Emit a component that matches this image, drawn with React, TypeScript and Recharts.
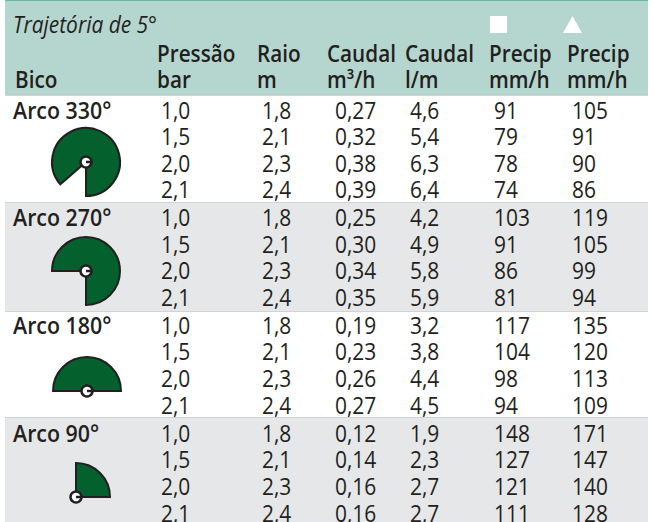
import { PieChart, Pie, Cell } from "recharts";

const WIDTH = 654;
const HEIGHT = 522;
const INK = "#231f20";
const GREEN = "#04602c";

const arcLabels = ["Arco 330°", "Arco 270°", "Arco 180°", "Arco 90°"];
// start / end angle of the drawn sector
const arcStart = [-90, -90, 0, 0];
const arcEnd = [221, 180, 180, 90];
const arcCx = [86, 86, 87, 76];
const arcCy = [162, 271, 391, 497];

const pressure = ["1,0", "1,5", "2,0", "2,1"];
const radius = ["1,8", "2,1", "2,3", "2,4"];
const flowM3 = [
  ["0,27", "0,32", "0,38", "0,39"],
  ["0,25", "0,30", "0,34", "0,35"],
  ["0,19", "0,23", "0,26", "0,27"],
  ["0,12", "0,14", "0,16", "0,16"],
];
const flowLm = [
  ["4,6", "5,4", "6,3", "6,4"],
  ["4,2", "4,9", "5,8", "5,9"],
  ["3,2", "3,8", "4,4", "4,5"],
  ["1,9", "2,3", "2,7", "2,7"],
];
const precipSquare = [
  ["91", "79", "78", "74"],
  ["103", "91", "86", "81"],
  ["117", "104", "98", "94"],
  ["148", "127", "121", "111"],
];
const precipTriangle = [
  ["105", "91", "90", "86"],
  ["119", "105", "99", "94"],
  ["135", "120", "113", "109"],
  ["171", "147", "140", "128"],
];

const headerTop = ["Pressão", "Raio", "Caudal", "Caudal", "Precip", "Precip"];
const headerBottom = ["bar", "m", "m³/h", "l/m", "mm/h", "mm/h"];
const headerX = [157, 257, 327, 405, 489, 567];

const sectionTop = [95, 202, 311, 417];
const rowBaselines = [
  [119, 145, 172, 198],
  [226, 253, 279, 306],
  [334, 360, 387, 414],
  [442, 468, 495, 522],
];
const valueX = [161, 262, 335, 410, 494, 572];

function T({
  x,
  y,
  children,
  weight = 400,
  italic = false,
  sx = 0.91,
}: {
  x: number;
  y: number;
  children: React.ReactNode;
  weight?: number;
  italic?: boolean;
  sx?: number;
}) {
  return (
    <text
      transform={`translate(${x} ${y}) scale(${sx} 1)`}
      fontFamily="'Open Sans', sans-serif"
      fontSize={23}
      fontWeight={weight}
      fontStyle={italic ? "italic" : "normal"}
      fill={INK}
    >
      {children}
    </text>
  );
}

export default function App() {
  return (
    <div style={{ position: "absolute", left: 0, top: 0, width: WIDTH, height: HEIGHT, overflow: "hidden", background: "#fff" }}>
      <svg width={WIDTH} height={HEIGHT} style={{ position: "absolute", left: 0, top: 0 }}>
        {/* header band */}
        <rect x={5} y={0} width={643} height={95} fill="#b5d6cf" />
        <rect x={5} y={0} width={643} height={1} fill="#6cb8a3" />
        <rect x={490} y={16} width={17} height={17} fill="#fff" />
        <polygon points="563,33 582,33 572.5,16" fill="#fff" />

        {/* zebra rows */}
        <rect x={5} y={sectionTop[1]} width={643} height={sectionTop[2] - sectionTop[1]} fill="#e6e7e8" />
        <rect x={5} y={sectionTop[3]} width={643} height={HEIGHT - sectionTop[3]} fill="#e6e7e8" />
        {sectionTop.map((y) => (
          <rect key={y} x={5} y={y} width={643} height={1} fill="#d1d3d4" />
        ))}

        <T x={13} y={33} italic sx={0.91}>Trajetória de 5°</T>
        <T x={15} y={88} weight={600} sx={0.9}>Bico</T>
        {headerTop.map((h, i) => (
          <T key={i} x={headerX[i]} y={62} weight={600} sx={0.9}>{h}</T>
        ))}
        {headerBottom.map((h, i) => (
          <T key={i} x={headerX[i]} y={88} weight={600} sx={0.9}>{h}</T>
        ))}

        {arcLabels.map((label, a) => (
          <g key={label}>
            <T x={13} y={rowBaselines[a][0]} weight={600} sx={0.93}>{label}</T>
            {rowBaselines[a].map((y, r) => (
              <g key={r}>
                <T x={valueX[0]} y={y}>{pressure[r]}</T>
                <T x={valueX[1]} y={y}>{radius[r]}</T>
                <T x={valueX[2]} y={y}>{flowM3[a][r]}</T>
                <T x={valueX[3]} y={y}>{flowLm[a][r]}</T>
                <T x={valueX[4]} y={y}>{precipSquare[a][r]}</T>
                <T x={valueX[5]} y={y}>{precipTriangle[a][r]}</T>
              </g>
            ))}
          </g>
        ))}
      </svg>

      <div style={{ position: "absolute", left: 0, top: 0 }}>
        <PieChart width={WIDTH} height={HEIGHT} margin={{ top: 0, right: 0, bottom: 0, left: 0 }}>
          {arcLabels.map((label, a) => (
            <Pie
              key={label}
              data={[{ name: label, value: arcEnd[a] - arcStart[a] }]}
              dataKey="value"
              cx={arcCx[a]}
              cy={arcCy[a]}
              innerRadius={0}
              outerRadius={34}
              startAngle={arcStart[a]}
              endAngle={arcEnd[a]}
              stroke={INK}
              strokeWidth={2}
              isAnimationActive={false}
            >
              <Cell fill={GREEN} />
            </Pie>
          ))}
          {arcLabels.map((label, a) => (
            <Pie
              key={`${label}-hub`}
              data={[{ name: "hub", value: 1 }]}
              dataKey="value"
              cx={arcCx[a]}
              cy={arcCy[a]}
              innerRadius={0}
              outerRadius={5.5}
              startAngle={0}
              endAngle={360}
              stroke={INK}
              strokeWidth={2.5}
              isAnimationActive={false}
            >
              <Cell fill="#fff" />
            </Pie>
          ))}
        </PieChart>
      </div>
    </div>
  );
}
